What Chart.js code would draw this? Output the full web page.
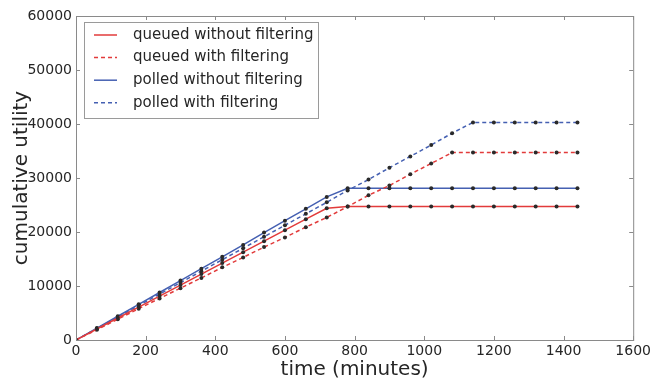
<!DOCTYPE html>
<html>
<head>
<meta charset="utf-8">
<script src="https://cdn.jsdelivr.net/npm/chart.js@4/dist/chart.umd.min.js"></script>
<style>
  html, body { margin: 0; padding: 0; background: #fff; }
  #wrap { width: 654px; height: 382px; }
</style>
</head>
<body>
<div id="wrap"><canvas id="utility-chart" width="654" height="382"></canvas></div>
<script>
// time in minutes, one sample every hour
const times = [0, 60, 120, 180, 240, 300, 360, 420, 480, 540, 600, 660, 720,
               780, 840, 900, 960, 1020, 1080, 1140, 1200, 1260, 1320, 1380, 1440];

const queuedWithout = [0, 2030, 4070, 6100, 8140, 10170, 12200, 14240, 16270, 18300, 20340, 22370, 24400,
                       24700, 24700, 24700, 24700, 24700, 24700, 24700, 24700, 24700, 24700, 24700, 24700];
const queuedWith    = [0, 1900, 3850, 5800, 7700, 9600, 11500, 13450, 15300, 17200, 19000, 20900, 22700,
                       24700, 26800, 28600, 30700, 32700, 34700, 34700, 34700, 34700, 34700, 34700, 34700];
const polledWithout = [0, 2200, 4400, 6600, 8800, 11000, 13200, 15400, 17600, 19900, 22100, 24300, 26500,
                       28100, 28100, 28100, 28100, 28100, 28100, 28100, 28100, 28100, 28100, 28100, 28100];
const polledWith    = [0, 2120, 4250, 6370, 8500, 10620, 12750, 14870, 17000, 19120, 21250, 23370, 25500,
                       27700, 29700, 31900, 34000, 36100, 38300, 40300, 40300, 40300, 40300, 40300, 40300];

const seriesLabels = ['queued without filtering', 'queued with filtering',
                      'polled without filtering', 'polled with filtering'];

const RED = '#e23b3b';
const BLUE = '#4560b2';
const TEXT = '#262626';
const AXIS = '#8a8a8a';

function toPoints(vals) {
    return times.map((t, i) => ({ x: t, y: vals[i] }));
}

function series(label, vals, color, dash) {
    return {
        label: label,
        data: toPoints(vals),
        borderColor: color,
        backgroundColor: color,
        borderWidth: 1.5,
        borderDash: dash,
        pointRadius: 2,
        pointBackgroundColor: '#2a2a2a',
        pointBorderWidth: 0,
        fill: false,
        tension: 0
    };
}

// box around the plot area, matplotlib-style inward ticks and the framed legend
const frameAndLegend = {
    id: 'frameAndLegend',
    afterDatasetsDraw(chart) {
        const { ctx, chartArea: a, scales } = chart;
        ctx.save();
        ctx.strokeStyle = AXIS;
        ctx.lineWidth = 1;
        ctx.setLineDash([]);
        ctx.strokeRect(a.left + 0.5, a.top + 0.5, a.right - a.left, a.bottom - a.top);
        ctx.beginPath();
        scales.x.ticks.forEach(t => {
            const px = Math.round(scales.x.getPixelForValue(t.value)) + 0.5;
            ctx.moveTo(px, a.bottom); ctx.lineTo(px, a.bottom - 4);
            ctx.moveTo(px, a.top); ctx.lineTo(px, a.top + 4);
        });
        scales.y.ticks.forEach(t => {
            const py = Math.round(scales.y.getPixelForValue(t.value)) + 0.5;
            ctx.moveTo(a.left, py); ctx.lineTo(a.left + 4, py);
            ctx.moveTo(a.right, py); ctx.lineTo(a.right - 4, py);
        });
        ctx.stroke();
        ctx.restore();
    },
    afterDraw(chart) {
        const { ctx, chartArea: a } = chart;
        const x0 = a.left + 8, y0 = a.top + 6, w = 234, h = 96;
        ctx.save();
        ctx.fillStyle = '#fff';
        ctx.fillRect(x0, y0, w, h);
        ctx.strokeStyle = '#9a9a9a';
        ctx.lineWidth = 1;
        ctx.strokeRect(x0 + 0.5, y0 + 0.5, w, h);
        chart.data.datasets.forEach((ds, i) => {
            const y = y0 + 13 + i * 22.6;
            ctx.strokeStyle = ds.borderColor;
            ctx.lineWidth = ds.borderWidth;
            ctx.setLineDash(ds.borderDash || []);
            ctx.beginPath();
            ctx.moveTo(x0 + 10, y);
            ctx.lineTo(x0 + 33, y);
            ctx.stroke();
            ctx.setLineDash([]);
            ctx.fillStyle = TEXT;
            ctx.font = '15px "DejaVu Sans"';
            ctx.textBaseline = 'middle';
            ctx.fillText(ds.label, x0 + 49, y);
        });
        ctx.restore();
    }
};

const ctx = document.getElementById('utility-chart').getContext('2d');
new Chart(ctx, {
    type: 'line',
    data: {
        datasets: [
            series(seriesLabels[0], queuedWithout, RED, []),
            series(seriesLabels[1], queuedWith, RED, [4, 3]),
            series(seriesLabels[2], polledWithout, BLUE, []),
            series(seriesLabels[3], polledWith, BLUE, [4, 3])
        ]
    },
    options: {
        responsive: false,
        animation: false,
        layout: { padding: { top: 16, right: 19, left: 0, bottom: 0 } },
        plugins: {
            legend: { display: false },
            tooltip: { enabled: false }
        },
        scales: {
            x: {
                type: 'linear',
                min: 0,
                max: 1600,
                grid: { display: false, drawTicks: false },
                border: { display: false },
                ticks: {
                    stepSize: 200,
                    padding: 3,
                    color: TEXT,
                    font: { family: 'DejaVu Sans', size: 14 },
                    maxRotation: 0,
                    callback: v => String(v)
                },
                title: {
                    display: true,
                    text: 'time (minutes)',
                    color: TEXT,
                    font: { family: 'DejaVu Sans', size: 20 },
                    padding: { top: 0, bottom: 0 }
                },
                afterFit: s => { s.height = 42; }
            },
            y: {
                min: 0,
                max: 60000,
                grid: { display: false, drawTicks: false },
                border: { display: false },
                ticks: {
                    stepSize: 10000,
                    padding: 4,
                    color: TEXT,
                    font: { family: 'DejaVu Sans', size: 14 },
                    callback: v => String(v)
                },
                title: {
                    display: true,
                    text: 'cumulative utility',
                    color: TEXT,
                    font: { family: 'DejaVu Sans', size: 20 },
                    padding: { top: 10, bottom: 0 }
                },
                afterFit: s => { s.width = 76; }
            }
        }
    },
    plugins: [frameAndLegend]
});
</script>
</body>
</html>
